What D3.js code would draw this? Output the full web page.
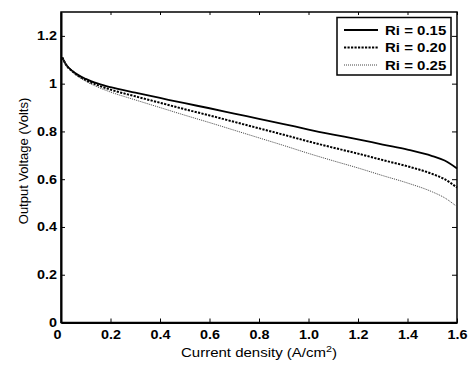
<!DOCTYPE html>
<html>
<head>
<meta charset="utf-8">
<script src="https://cdn.jsdelivr.net/npm/d3@7"></script>
<style>
  html, body { margin: 0; padding: 0; background: #fff; }
  svg { display: block; font-family: "Liberation Sans", Arial, sans-serif; }
</style>
</head>
<body>
<svg id="chart" width="473" height="365"></svg>
<script>
// Data
const currents = [0.005, 0.02, 0.05, 0.1, 0.15, 0.2, 0.3, 0.4, 0.5, 0.6, 0.7, 0.8, 0.9, 1.0, 1.1, 1.2, 1.3, 1.4, 1.5, 1.55, 1.6];
const ri015 = [1.11, 1.08, 1.05, 1.02, 1.0, 0.985, 0.962, 0.94, 0.918, 0.897, 0.875, 0.853, 0.831, 0.808, 0.787, 0.767, 0.745, 0.724, 0.697, 0.678, 0.645];
const ri020 = [1.11, 1.08, 1.048, 1.015, 0.993, 0.975, 0.947, 0.92, 0.893, 0.867, 0.84, 0.813, 0.786, 0.758, 0.732, 0.707, 0.68, 0.654, 0.622, 0.6, 0.565];
const ri025 = [1.11, 1.078, 1.045, 1.01, 0.985, 0.965, 0.932, 0.9, 0.868, 0.837, 0.805, 0.773, 0.741, 0.708, 0.677, 0.647, 0.615, 0.584, 0.547, 0.522, 0.485];
const seriesNames = ["Ri = 0.15", "Ri = 0.20", "Ri = 0.25"];
const xTicks = [0, 0.2, 0.4, 0.6, 0.8, 1.0, 1.2, 1.4, 1.6];
const xTickLabels = ["0", "0.2", "0.4", "0.6", "0.8", "1.0", "1.2", "1.4", "1.6"];
const yTicks = [0, 0.2, 0.4, 0.6, 0.8, 1.0, 1.2];
const yTickLabels = ["0", "0.2", "0.4", "0.6", "0.8", "1", "1.2"];

const svg = d3.select("#chart");
const L = 61, R = 457, T = 12, B = 322.5;
const x = d3.scaleLinear().domain([0, 1.6]).range([L, R]);
const y = d3.scaleLinear().domain([0, 1.3]).range([B, T]);
const SX = 1.2; // horizontal stretch of the reference text

const styles = [
  { width: 1.8, dash: null, color: "#000" },
  { width: 2, dash: "2.2,1.3", color: "#000" },
  { width: 1, dash: "1,1", color: "#444" }
];
const series = [ri015, ri020, ri025];

// frame (top/right)
svg.append("rect").attr("x", L).attr("y", T).attr("width", R - L).attr("height", B - T)
  .attr("fill", "none").attr("stroke", "#000").attr("stroke-width", 1.5);

// lines
const line = d3.line().x(d => x(d[0])).y(d => y(d[1])).curve(d3.curveMonotoneX);
series.forEach((vals, k) => {
  const pts = currents.map((c, i) => [c, vals[i]]);
  svg.append("path").datum(pts).attr("d", line)
    .attr("fill", "none").attr("stroke", styles[k].color)
    .attr("stroke-width", styles[k].width)
    .attr("stroke-dasharray", styles[k].dash);
});

// axes
const xAxis = d3.axisBottom(x).tickValues(xTicks).tickFormat((d, i) => xTickLabels[i]).tickSizeInner(-4).tickSizeOuter(0).tickPadding(8);
const gx = svg.append("g").attr("transform", `translate(0,${B})`).call(xAxis);
const yAxis = d3.axisLeft(y).tickValues(yTicks).tickFormat((d, i) => yTickLabels[i]).tickSizeInner(-4).tickSizeOuter(0).tickPadding(4);
const gy = svg.append("g").attr("transform", `translate(${L},0)`).call(yAxis);
[gx, gy].forEach(g => {
  g.select(".domain").attr("stroke-width", 2);
  g.selectAll(".tick line").attr("stroke-width", 1);
  g.selectAll(".tick text").attr("font-size", 12).attr("font-weight", "bold")
    .attr("font-family", "'Liberation Sans', Arial, sans-serif").attr("fill", "#000");
});
gx.selectAll(".tick text").attr("transform", function(d) { return d === 0 ? `translate(-4,0) scale(${SX},1)` : `scale(${SX},1)`; });
gy.selectAll(".tick text").attr("x", 0).attr("transform", `translate(-4,0) scale(${SX},1)`);

// top and right ticks
const xTop = d3.axisTop(x).tickValues(xTicks).tickFormat("").tickSizeInner(-3).tickSizeOuter(0);
svg.append("g").attr("transform", `translate(0,${T})`).call(xTop).select(".domain").remove();
const yRight = d3.axisRight(y).tickValues(yTicks).tickFormat("").tickSizeInner(-5).tickSizeOuter(0);
svg.append("g").attr("transform", `translate(${R},0)`).call(yRight).select(".domain").remove();

// axis titles
const xt = svg.append("text").attr("transform", `translate(${(L + R) / 2},357) scale(${SX},1)`)
  .attr("text-anchor", "middle").attr("font-size", 12.5).attr("fill", "#000");
xt.append("tspan").text("Current density (A/cm");
xt.append("tspan").attr("dy", -5).attr("font-size", 9).text("2");
xt.append("tspan").attr("dy", 5).text(")");

svg.append("text").attr("transform", `translate(28,161) rotate(-90) `)
  .attr("text-anchor", "middle").attr("font-size", 13).attr("fill", "#000")
  .text("Output Voltage (Volts)");

// legend
const lg = svg.append("g");
lg.append("rect").attr("x", 337).attr("y", 17.5).attr("width", 114).attr("height", 57.5)
  .attr("fill", "#fff").attr("stroke", "#000").attr("stroke-width", 1.5);
const rowsY = [30, 47.5, 65];
seriesNames.forEach((name, k) => {
  lg.append("line").attr("x1", 344).attr("x2", 378).attr("y1", rowsY[k]).attr("y2", rowsY[k])
    .attr("stroke", styles[k].color).attr("stroke-width", styles[k].width)
    .attr("stroke-dasharray", styles[k].dash);
  lg.append("text").attr("transform", `translate(385,${rowsY[k] + 4.5}) scale(${SX},1)`)
    .attr("font-size", 12.5).attr("font-weight", "bold").attr("fill", "#000").text(name);
});
</script>
</body>
</html>
